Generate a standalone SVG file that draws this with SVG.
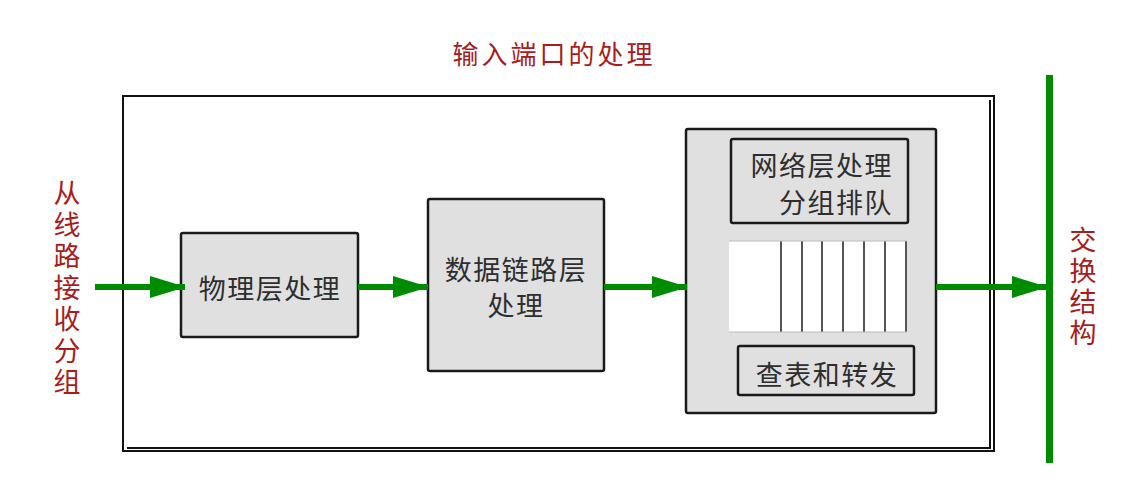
<svg xmlns="http://www.w3.org/2000/svg" width="1130" height="499" viewBox="0 0 1130 499">
<style>
.box{fill:#e0e0e0;stroke:#1a1a1a;stroke-width:2.5}
.t{font-family:"Noto Sans CJK SC","Noto Sans",sans-serif;fill:#2e2e2e;font-size:27px}
.r{font-family:"Noto Sans CJK SC","Noto Sans",sans-serif;fill:#a81c1c;font-size:26px;text-anchor:middle}
.c{stroke:#008c00;stroke-width:6;fill:none}
.q{stroke:#555;stroke-width:2}
</style>
<defs>
<marker id="ah" markerUnits="userSpaceOnUse" markerWidth="36" markerHeight="22" refX="35" refY="11" orient="auto">
<path d="M0,0 L36,11 L0,22 Z" fill="#008c00"/>
</marker>
</defs>
<rect width="1130" height="499" fill="#fff"/>
<g id="frame">
<rect x="123" y="96" width="871" height="355" fill="none" stroke="#111" stroke-width="2"/>
<path d="M990,100 V448 H127" fill="none" stroke="#111" stroke-width="2"/>
</g>
<text class="r" x="554" y="64" letter-spacing="3">输入端口的处理</text>
<g id="left-label" class="r" style="font-size:27px">
<text x="67" y="203">从</text><text x="67" y="234.5">线</text><text x="67" y="266">路</text><text x="67" y="297.5">接</text><text x="67" y="329">收</text><text x="67" y="360.5">分</text><text x="67" y="392">组</text>
</g>
<g id="right-label" class="r" style="font-size:27px">
<text x="1083" y="250">交</text><text x="1083" y="281">换</text><text x="1083" y="312">结</text><text x="1083" y="343">构</text>
</g>
<g id="switch-bar"><rect x="1046" y="75" width="7" height="388" fill="#008c00"/></g>
<g id="phy">
<rect class="box" x="181" y="233" width="177" height="104" rx="2"/>
<text class="t" x="270" y="299" text-anchor="middle" letter-spacing="1.5">物理层处理</text>
</g>
<g id="link">
<rect class="box" x="428" y="199" width="176" height="172" rx="2"/>
<text class="t" x="516" y="280" text-anchor="middle" letter-spacing="1.5">数据链路层</text>
<text class="t" x="516" y="316" text-anchor="middle" letter-spacing="1.5">处理</text>
</g>
<g id="net">
<rect class="box" x="686" y="129" width="250" height="284" rx="2"/>
</g>
<g id="netproc">
<rect class="box" x="731" y="139" width="177" height="84" rx="2"/>
<text class="t" x="893" y="176" text-anchor="end" letter-spacing="1.5">网络层处理</text>
<text class="t" x="893" y="213" text-anchor="end" letter-spacing="1.5">分组排队</text>
</g>
<g id="queue">
<rect x="729" y="241" width="178" height="91" fill="#fff"/>
<path class="q" d="M781,241V332M802,241V332M822,241V332M843,241V332M864,241V332M885,241V332M906,241V332"/>
<path d="M729,241H907M729,332H907" stroke="#bbb" stroke-width="1"/>
</g>
<g id="lookup">
<rect class="box" x="738" y="346" width="176" height="49" rx="2"/>
<text class="t" x="827" y="385" text-anchor="middle" letter-spacing="1.5">查表和转发</text>
</g>
<g id="connectors">
<line class="c" x1="95" y1="287" x2="185" y2="287" marker-end="url(#ah)"/>
<line class="c" x1="358" y1="287" x2="428" y2="287" marker-end="url(#ah)"/>
<line class="c" x1="604" y1="287" x2="687" y2="287" marker-end="url(#ah)"/>
<line class="c" x1="936" y1="287" x2="1047" y2="287" marker-end="url(#ah)"/>
</g>
</svg>
